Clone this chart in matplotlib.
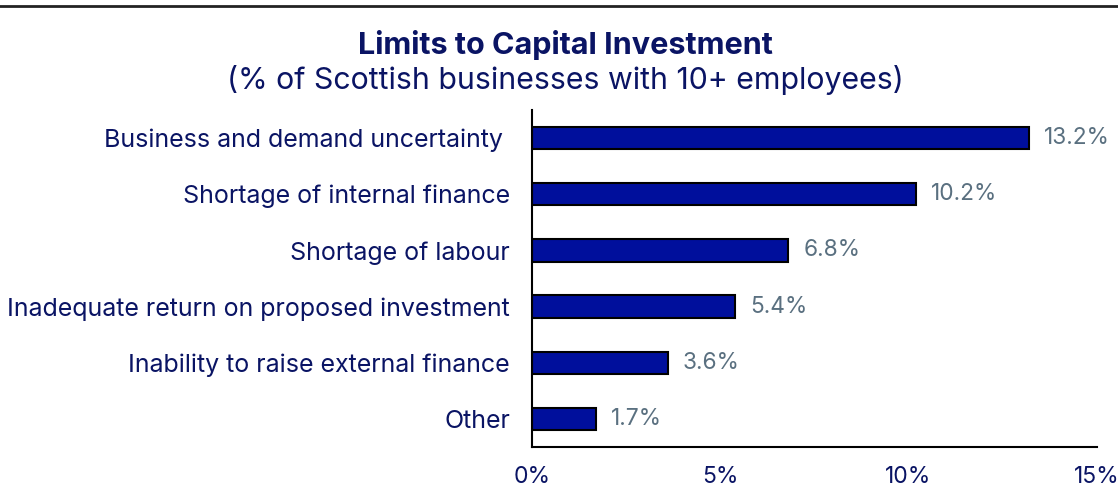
import matplotlib
matplotlib.use("Agg")
import matplotlib.pyplot as plt
from matplotlib.lines import Line2D

categories = ["Other", "Inability to raise external finance", "Inadequate return on proposed investment",
              "Shortage of labour", "Shortage of internal finance", "Business and demand uncertainty "]
values = [1.7, 3.6, 5.4, 6.8, 10.2, 13.2]
xticks = [0, 5, 10, 15]
xtick_labels = ["0%", "5%", "10%", "15%"]

plt.rcParams['font.family'] = ['Inter', 'DejaVu Sans']
navy = "#0a1464"
fig = plt.figure(figsize=(11.18, 5.0), dpi=100)
ax = fig.add_axes([0.476, 0.106, 0.505, 0.674])
ax.barh(range(len(values)), values, height=0.4, color="#000f9c", edgecolor="black", linewidth=1.5)
for i, v in enumerate(values):
    ax.text(v + 0.4, i, f"{v:.1f}%", va="center", ha="left", fontsize=16.4, color="#5a7080")
ax.set_yticks(range(len(categories)))
ax.set_yticklabels(categories, fontsize=18, color=navy)
ax.set_xticks(xticks)
ax.set_xticklabels(xtick_labels, fontsize=16.5, color=navy)
ax.set_xlim(0, 15)
ax.set_ylim(-0.5, 5.5)
ax.tick_params(axis='both', length=0)
ax.tick_params(axis='x', pad=14)
ax.tick_params(axis='y', pad=16)
for s in ["top", "right"]:
    ax.spines[s].set_visible(False)
for s in ["left", "bottom"]:
    ax.spines[s].set_linewidth(1.5)
    ax.spines[s].set_color("black")
fig.text(0.506, 0.91, "Limits to Capital Investment", ha="center", va="center", fontsize=22, fontweight="bold", color=navy)
fig.text(0.506, 0.84, "(% of Scottish businesses with 10+ employees)", ha="center", va="center", fontsize=21.8, color=navy)
fig.add_artist(Line2D([0, 1], [0.988, 0.988], transform=fig.transFigure, color="#222222", linewidth=2))
fig.savefig("out.png", dpi=100)
